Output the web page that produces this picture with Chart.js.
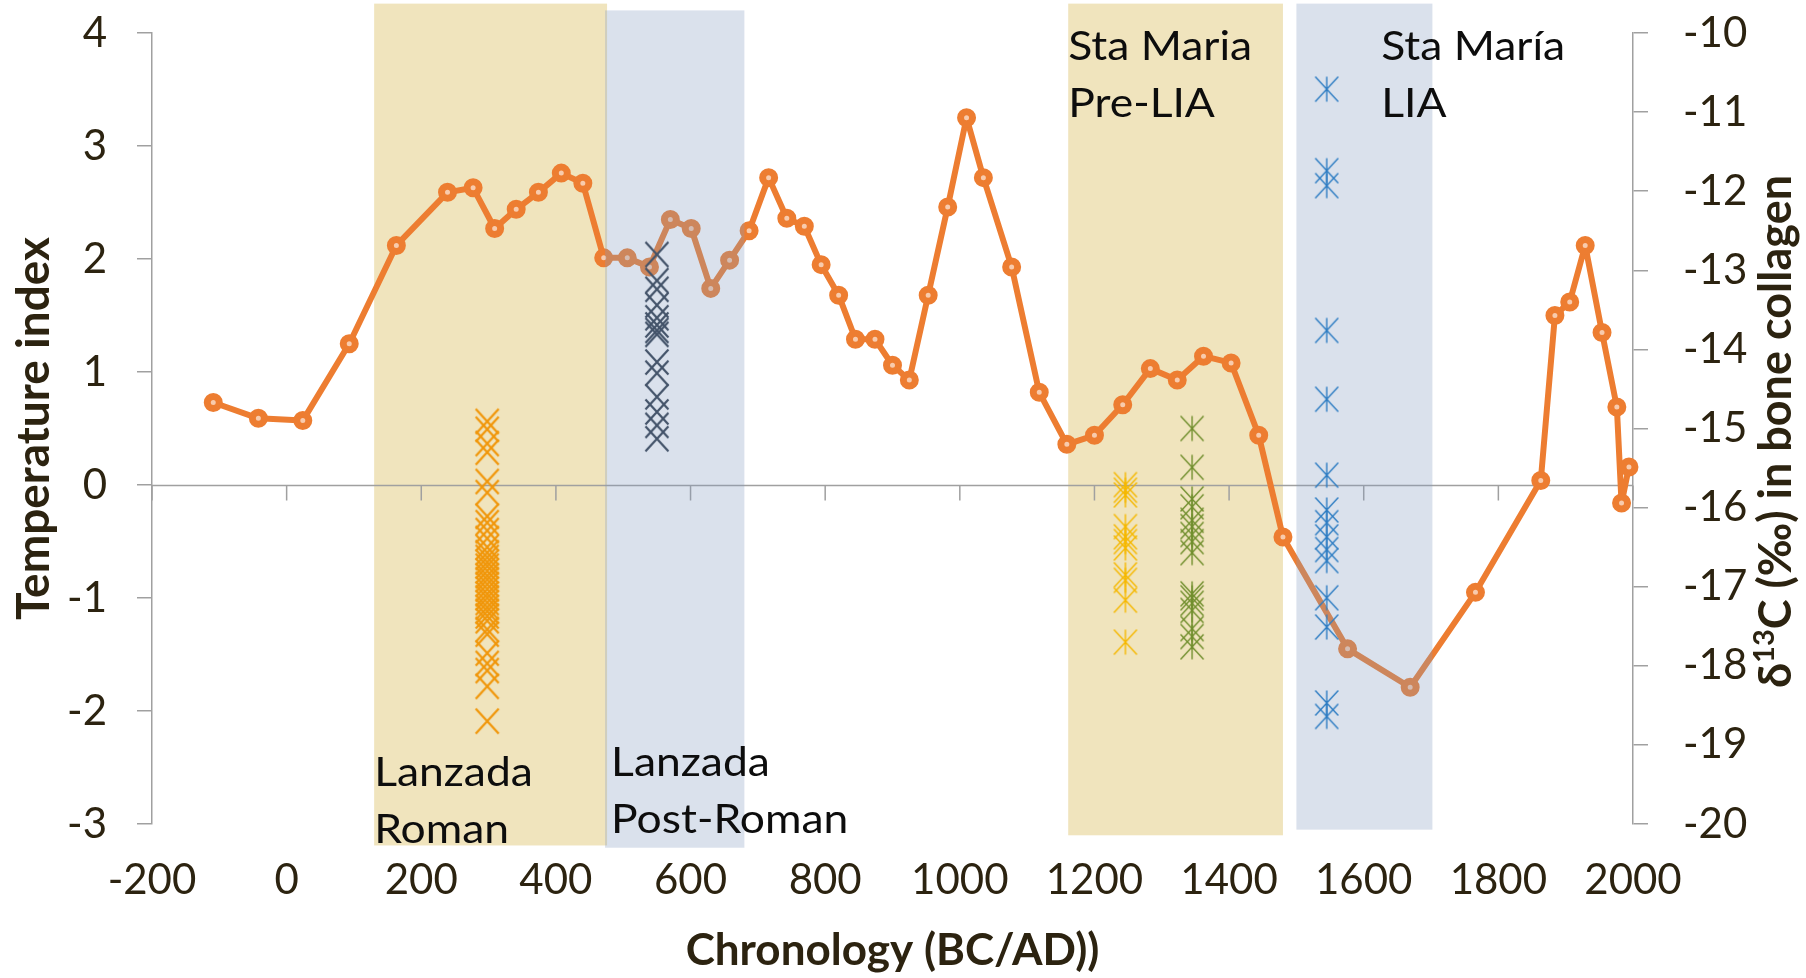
<!DOCTYPE html>
<html>
<head>
<meta charset="utf-8">
<script src="https://cdn.jsdelivr.net/npm/chart.js@4.4.1/dist/chart.umd.min.js"></script>
<style>
  html, body { margin: 0; padding: 0; background: #fff; }
  #wrap { width: 1806px; height: 978px; }
</style>
</head>
<body>
<div id="wrap"><canvas id="grafico" width="1806" height="978"></canvas></div>
<script>
// temperature index (left axis)
const anios = [-109, -42, 24, 93, 163, 239, 277, 309, 341, 374, 408, 440, 471, 506, 539, 570, 601, 630, 658, 687, 716, 743, 769, 794, 820, 845, 874, 900, 925, 953, 982, 1010, 1035, 1077, 1118, 1159, 1200, 1242, 1283, 1323, 1362, 1403, 1444, 1480, 1576, 1669, 1766, 1863, 1884, 1906, 1929, 1954, 1976, 1983, 1994];
const temperatura = [0.73, 0.59, 0.57, 1.25, 2.12, 2.59, 2.63, 2.27, 2.44, 2.59, 2.76, 2.67, 2.01, 2.01, 1.93, 2.35, 2.27, 1.74, 1.99, 2.25, 2.72, 2.36, 2.29, 1.95, 1.68, 1.29, 1.29, 1.06, 0.93, 1.68, 2.46, 3.25, 2.72, 1.93, 0.82, 0.36, 0.44, 0.71, 1.03, 0.93, 1.14, 1.08, 0.44, -0.46, -1.45, -1.79, -0.95, 0.04, 1.50, 1.62, 2.12, 1.35, 0.69, -0.16, 0.16];

// d13C in bone collagen (right axis), one column per site
const anioRomana = 298;
const d13cRomana = [-14.91, -15.01, -15.19, -15.30, -15.67, -15.81, -16.11, -16.19, -16.29, -16.39, -16.50, -16.57, -16.63, -16.69, -16.74, -16.80, -16.86, -16.91, -16.97, -17.03, -17.09, -17.14, -17.20, -17.26, -17.31, -17.37, -17.43, -17.54, -17.60, -17.84, -17.97, -18.06, -18.26, -18.70];
const anioPostRomana = 550;
const d13cPostRomana = [-12.80, -13.13, -13.24, -13.44, -13.60, -13.69, -13.76, -13.81, -14.16, -14.30, -14.60, -14.79, -14.96, -15.13];
const anioPreLia = 1246;
const d13cPreLia = [-15.71, -15.78, -15.84, -16.24, -16.37, -16.43, -16.51, -16.85, -16.92, -17.17, -17.70];
const anioPreLiaB = 1345;
const d13cPreLiaB = [-15.00, -15.49, -15.89, -15.99, -16.16, -16.24, -16.34, -16.43, -16.57, -17.09, -17.14, -17.21, -17.30, -17.53, -17.63, -17.76];
const anioLia = 1545;
const d13cLia = [-10.71, -11.74, -11.93, -13.76, -14.63, -15.59, -16.03, -16.19, -16.37, -16.53, -16.67, -17.14, -17.51, -18.47, -18.64];

// periods: years and temperature-index limits
const periodos = [
  { texto: ["Lanzada", "Roman"], desde: 130, hasta: 476, arriba: 4.26, abajo: -3.19, tono: "amarillo", etiqueta: [130, -2.66] },
  { texto: ["Lanzada", "Post-Roman"], desde: 473, hasta: 680, arriba: 4.20, abajo: -3.21, tono: "azul", etiqueta: [482, -2.575] },
  { texto: ["Sta Maria", "Pre-LIA"], desde: 1161, hasta: 1480, arriba: 4.26, abajo: -3.10, tono: "amarillo", etiqueta: [1161, 3.76] },
  { texto: ["Sta María", "LIA"], desde: 1500, hasta: 1702, arriba: 4.26, abajo: -3.05, tono: "azul", etiqueta: [1626, 3.76] }
];

const fuente = "Lato, 'Open Sans', sans-serif";
const colorTexto = "#2c2310";
const colorEje = "#a0a0a0";

function crearMarca(color, conVertical, grosor) {
  const c = document.createElement("canvas");
  c.width = 28;
  c.height = 28;
  const g = c.getContext("2d");
  g.strokeStyle = color;
  g.lineWidth = grosor;
  g.beginPath();
  g.moveTo(2.5, 1.5); g.lineTo(25.5, 26.5);
  g.moveTo(25.5, 1.5); g.lineTo(2.5, 26.5);
  if (conVertical) { g.moveTo(14, 1.5); g.lineTo(14, 26.5); }
  g.stroke();
  return c;
}

function puntos(anio, valores) {
  return valores.map((v) => ({ x: anio, y: v }));
}

function dibujarBandas(chart, tono) {
  const { ctx, scales } = chart;
  ctx.save();
  periodos.filter((p) => p.tono === tono).forEach((p) => {
    const x1 = scales.x.getPixelForValue(p.desde);
    const x2 = scales.x.getPixelForValue(p.hasta);
    const y1 = scales.y.getPixelForValue(p.arriba);
    const y2 = scales.y.getPixelForValue(p.abajo);
    ctx.fillStyle = tono === "amarillo" ? "#f0e4bd" : "rgba(132, 155, 192, 0.3)";
    ctx.fillRect(x1, y1, x2 - x1, y2 - y1);
  });
  ctx.restore();
}

function dibujarCero(chart) {
  const { ctx, scales, chartArea } = chart;
  const y0 = Math.round(scales.y.getPixelForValue(0)) + 0.5;
  ctx.save();
  ctx.strokeStyle = colorEje;
  ctx.lineWidth = 1.5;
  ctx.beginPath();
  ctx.moveTo(chartArea.left, y0);
  ctx.lineTo(chartArea.right, y0);
  scales.x.ticks.forEach((t) => {
    const x = scales.x.getPixelForValue(t.value);
    ctx.moveTo(x, y0);
    ctx.lineTo(x, y0 + 15);
  });
  ctx.stroke();
  ctx.restore();
}

const bandasPlugin = {
  id: "bandas",
  beforeDatasetsDraw(chart) {
    dibujarBandas(chart, "amarillo");
    dibujarCero(chart);
  },
  afterDatasetDraw(chart, args) {
    if (args.index === 0) dibujarBandas(chart, "azul");
  },
  afterDatasetsDraw(chart) {
    const { ctx, scales } = chart;
    periodos.forEach((p) => {
      const x = scales.x.getPixelForValue(p.etiqueta[0]);
      const y = scales.y.getPixelForValue(p.etiqueta[1]);
      ctx.save();
      ctx.translate(x, y);
      ctx.scale(1.11, 1);
      ctx.fillStyle = "#0d0d0d";
      ctx.font = "40px " + fuente;
      ctx.textBaseline = "alphabetic";
      p.texto.forEach((linea, i) => ctx.fillText(linea, 0, i * 57));
      ctx.restore();
    });
  },
  afterDraw(chart) {
    // right axis title, read bottom to top, with superscript
    const { ctx, chartArea } = chart;
    const partes = [
      { t: "δ", f: "bold 45px " + fuente, dy: 0 },
      { t: "13", f: "bold 29px " + fuente, dy: -17 },
      { t: "C (‰) in bone collagen", f: "bold 45px " + fuente, dy: 0 }
    ];
    ctx.save();
    let total = 0;
    partes.forEach((p) => { ctx.font = p.f; p.w = ctx.measureText(p.t).width; total += p.w; });
    ctx.translate(1791, (chartArea.top + chartArea.bottom) / 2 + 3);
    ctx.rotate(-Math.PI / 2);
    ctx.fillStyle = colorTexto;
    ctx.textBaseline = "alphabetic";
    let x = -total / 2;
    partes.forEach((p) => { ctx.font = p.f; ctx.fillText(p.t, x, p.dy); x += p.w; });
    ctx.restore();
  }
};

const serieBase = { type: "scatter", pointRadius: 12, pointHoverRadius: 12, showLine: false, order: 0, clip: false };

function sinRelleno(s) {
  s.paddingTop = 0;
  s.paddingBottom = 0;
}

new Chart(document.getElementById("grafico"), {
  type: "scatter",
  data: {
    datasets: [
      {
        type: "line",
        label: "Temperature index",
        data: anios.map((a, i) => ({ x: a, y: temperatura[i] })),
        yAxisID: "y",
        borderColor: "#ed7d31",
        borderWidth: 6,
        borderJoinStyle: "round",
        borderCapStyle: "round",
        tension: 0,
        pointRadius: 6,
        pointHoverRadius: 6,
        pointBorderWidth: 7,
        pointBorderColor: "#ed7d31",
        pointBackgroundColor: "#f8cbad",
        order: 1,
        clip: 12
      },
      { ...serieBase, label: "Lanzada Roman", data: puntos(anioRomana, d13cRomana), yAxisID: "y2", pointStyle: crearMarca("#f0960a", false, 2.2) },
      { ...serieBase, label: "Lanzada Post-Roman", data: puntos(anioPostRomana, d13cPostRomana), yAxisID: "y2", pointStyle: crearMarca("#44546a", false, 2.2) },
      { ...serieBase, label: "Sta Maria Pre-LIA", data: puntos(anioPreLia, d13cPreLia), yAxisID: "y2", pointStyle: crearMarca("#f5b800", true, 1.4) },
      { ...serieBase, label: "Sta Maria Pre-LIA (2)", data: puntos(anioPreLiaB, d13cPreLiaB), yAxisID: "y2", pointStyle: crearMarca("#718f2e", true, 1.4) },
      { ...serieBase, label: "Sta María LIA", data: puntos(anioLia, d13cLia), yAxisID: "y2", pointStyle: crearMarca("#2e7dc3", true, 1.4) }
    ]
  },
  options: {
    responsive: false,
    animation: false,
    layout: { padding: { top: 33, left: 0, right: 0, bottom: 0 } },
    plugins: { legend: { display: false }, tooltip: { enabled: false } },
    scales: {
      x: {
        type: "linear",
        position: "bottom",
        min: -200,
        max: 2000,
        afterFit: (s) => { s.height = 154; },
        grid: { display: false, drawTicks: false },
        border: { display: false },
        ticks: {
          stepSize: 200,
          padding: 31,
          maxRotation: 0,
          color: colorTexto,
          font: { family: fuente, size: 42 },
          callback: (v) => String(v)
        },
        title: {
          display: true,
          text: "Chronology (BC/AD))",
          color: colorTexto,
          font: { family: fuente, size: 44, weight: "bold" },
          padding: { top: 0, bottom: 1 }
        }
      },
      y: {
        position: "left",
        min: -3,
        max: 4,
        afterFit: (s) => { s.width = 152; sinRelleno(s); },
        grid: { drawOnChartArea: false, color: colorEje, lineWidth: 1.5, tickLength: 15 },
        border: { color: colorEje, width: 1.5 },
        ticks: {
          stepSize: 1,
          padding: 30,
          color: colorTexto,
          font: { family: fuente, size: 42 },
          callback: (v) => String(v)
        },
        title: {
          display: true,
          text: "Temperature index",
          color: colorTexto,
          font: { family: fuente, size: 46, weight: "bold" },
          padding: { top: 7, bottom: 0 }
        }
      },
      y2: {
        position: "right",
        min: -20,
        max: -10,
        afterFit: (s) => { s.width = 173; sinRelleno(s); },
        grid: { drawOnChartArea: false, color: colorEje, lineWidth: 1.5, tickLength: 15 },
        border: { color: colorEje, width: 1.5 },
        ticks: {
          stepSize: 1,
          padding: 35,
          color: colorTexto,
          font: { family: fuente, size: 42 },
          callback: (v) => String(v)
        }
      }
    }
  },
  plugins: [bandasPlugin]
});
</script>
</body>
</html>
